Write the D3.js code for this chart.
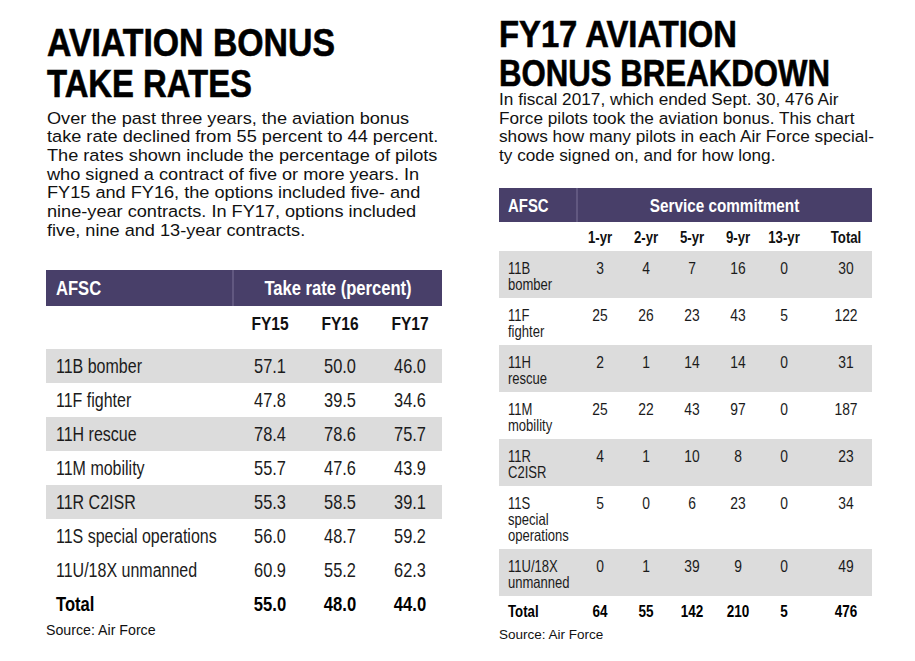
<!DOCTYPE html>
<html lang="en">
<head>
  <meta charset="utf-8">
  <title>Aviation bonus tables</title>
  <script src="https://d3js.org/d3.v7.min.js"></script>
  <style>
  body { margin: 0; background: #fff; }
  text { font-family: "Liberation Sans", Arial, sans-serif; }
  </style>
</head>
<body>
<script>
  // ---- left table: take rates ----
  var takeRateAfsc = ["11B bomber", "11F fighter", "11H rescue", "11M mobility",
                      "11R C2ISR", "11S special operations", "11U/18X unmanned"];
  var fiscalYears = ["FY15", "FY16", "FY17"];
  var fy15 = [57.1, 47.8, 78.4, 55.7, 55.3, 56.0, 60.9];
  var fy16 = [50.0, 39.5, 78.6, 47.6, 58.5, 48.7, 55.2];
  var fy17 = [46.0, 34.6, 75.7, 43.9, 39.1, 59.2, 62.3];
  var takeRateTotals = [55.0, 48.0, 44.0];

  // ---- right table: FY17 breakdown ----
  var breakdownAfsc = [["11B", "bomber"], ["11F", "fighter"], ["11H", "rescue"],
                       ["11M", "mobility"], ["11R", "C2ISR"],
                       ["11S", "special", "operations"], ["11U/18X", "unmanned"]];
  var commitCols = ["1-yr", "2-yr", "5-yr", "9-yr", "13-yr"];
  var yr1  = [3, 25, 2, 25, 4, 5, 0];
  var yr2  = [4, 26, 1, 22, 1, 0, 1];
  var yr5  = [7, 23, 14, 43, 10, 6, 39];
  var yr9  = [16, 43, 14, 97, 8, 23, 9];
  var yr13 = [0, 5, 0, 0, 0, 0, 0];
  var rowTotals = [30, 122, 31, 187, 23, 34, 49];
  var colTotals = [64, 55, 142, 210, 5];
  var grandTotal = 476;

  // ---- copy ----
  var leftTitle = ["AVIATION BONUS", "TAKE RATES"];
  var leftIntro = [
    "Over the past three years, the aviation bonus",
    "take rate declined from 55 percent to 44 percent.",
    "The rates shown include the percentage of pilots",
    "who signed a contract of five or more years. In",
    "FY15 and FY16, the options included five- and",
    "nine-year contracts. In FY17, options included",
    "five, nine and 13-year contracts."
  ];
  var rightTitle = ["FY17 AVIATION", "BONUS BREAKDOWN"];
  var rightIntro = [
    "In fiscal 2017, which ended Sept. 30, 476 Air",
    "Force pilots took the aviation bonus. This chart",
    "shows how many pilots in each Air Force special-",
    "ty code signed on, and for how long."
  ];

  var purple = "#483f69";
  var shade = "#dcdcdc";
  var ink = "#1b1b1b";

  var svg = d3.select("body").append("svg")
    .attr("width", 915)
    .attr("height", 661);

  // draws one piece of text, squeezed horizontally by sx
  function label(g, x, y, s, o) {
    o = o || {};
    var t = g.append("text")
      .attr("transform", "translate(" + x + "," + y + ") scale(" + (o.sx || 1) + ",1)")
      .attr("text-anchor", o.anchor || "start")
      .attr("font-size", o.size || 16)
      .attr("font-weight", o.bold ? "bold" : "normal")
      .attr("fill", o.fill || ink)
      .text(s);
    if (o.stroke) t.attr("stroke", o.fill || "#000").attr("stroke-width", o.stroke);
    return t;
  }

  // headline lines are fitted to the width they take in print
  function titleBlock(x, baselines, widths, size, lines) {
    lines.forEach(function(s, i) {
      svg.append("text")
        .attr("x", x)
        .attr("y", baselines[i])
        .attr("font-size", size)
        .attr("font-weight", "bold")
        .attr("textLength", widths[i])
        .attr("lengthAdjust", "spacingAndGlyphs")
        .attr("fill", "#000")
        .attr("stroke", "#000")
        .attr("stroke-width", 0.6)
        .text(s);
    });
  }
  function introBlock(x, y0, sx, lines) {
    lines.forEach(function(s, i) {
      label(svg, x, y0 + i * 18.7, s, {size: 17.3, sx: sx, fill: "#111"});
    });
  }

  // ================= LEFT =================
  titleBlock(47, [56, 97], [288, 205], 38.5, leftTitle);
  introBlock(47, 123.5, 1.05, leftIntro);

  var L = svg.append("g");
  var lx0 = 46, lx1 = 442;

  L.append("rect").attr("x", lx0).attr("y", 270).attr("width", lx1 - lx0).attr("height", 36).attr("fill", purple);
  L.append("line").attr("x1", 233).attr("x2", 233).attr("y1", 270).attr("y2", 306)
    .attr("stroke", "#7b7398").attr("stroke-width", 1);
  label(L, 56, 295, "AFSC", {size: 20, bold: true, sx: 0.83, fill: "#fff"});
  label(L, 338, 295, "Take rate (percent)", {size: 20, bold: true, sx: 0.83, fill: "#fff", anchor: "middle"});

  var yearX = d3.scalePoint().domain(fiscalYears).range([270, 410]);
  var rowY = d3.scaleBand().domain(takeRateAfsc).range([349, 587]);
  var f1 = d3.format(".1f");

  fiscalYears.forEach(function(d) {
    label(L, yearX(d), 330, d, {size: 19, bold: true, sx: 0.82, anchor: "middle", fill: "#111"});
  });

  var leftRows = takeRateAfsc.map(function(a, i) {
    return {afsc: a, vals: [fy15[i], fy16[i], fy17[i]], i: i};
  });

  L.selectAll("rect.band").data(leftRows.filter(function(d) { return d.i % 2 === 0 && d.i < 6; }))
    .enter().append("rect")
    .attr("class", "band")
    .attr("x", lx0)
    .attr("y", function(d) { return rowY(d.afsc); })
    .attr("width", lx1 - lx0)
    .attr("height", rowY.bandwidth())
    .attr("fill", shade);

  leftRows.forEach(function(r) {
    var by = rowY(r.afsc) + 24;
    label(L, 56, by, r.afsc, {size: 20, sx: 0.8});
    r.vals.forEach(function(v, j) {
      label(L, yearX(fiscalYears[j]), by, f1(v), {size: 20, sx: 0.82, anchor: "middle"});
    });
  });

  var lTotY = rowY.range()[1] + 24;
  label(L, 56, lTotY, "Total", {size: 20, bold: true, sx: 0.83, fill: "#000"});
  takeRateTotals.forEach(function(v, j) {
    label(L, yearX(fiscalYears[j]), lTotY, f1(v), {size: 20, bold: true, sx: 0.83, anchor: "middle", fill: "#000"});
  });
  label(L, 46, 635, "Source: Air Force", {size: 14.2, fill: "#111"});

  // ================= RIGHT =================
  titleBlock(499, [47, 86], [238, 331], 37, rightTitle);
  introBlock(499, 105, 0.995, rightIntro);

  var R = svg.append("g");
  var rx0 = 499, rx1 = 872;

  R.append("rect").attr("x", rx0).attr("y", 188).attr("width", rx1 - rx0).attr("height", 34).attr("fill", purple);
  R.append("line").attr("x1", 577).attr("x2", 577).attr("y1", 188).attr("y2", 222)
    .attr("stroke", "#7b7398").attr("stroke-width", 1);
  label(R, 508, 211.5, "AFSC", {size: 18, bold: true, sx: 0.83, fill: "#fff"});
  label(R, 724.5, 211.5, "Service commitment", {size: 18, bold: true, sx: 0.85, fill: "#fff", anchor: "middle"});

  var colX = d3.scalePoint().domain(commitCols).range([600, 784]);
  var totalX = 846;

  commitCols.forEach(function(c) {
    label(R, colX(c), 243, c, {size: 16.5, bold: true, sx: 0.8, anchor: "middle", fill: "#111"});
  });
  label(R, totalX, 243, "Total", {size: 16.5, bold: true, sx: 0.8, anchor: "middle", fill: "#111"});

  // row heights follow the number of label lines
  var lineGap = 16;
  var heights = breakdownAfsc.map(function(l) { return 15 + lineGap * l.length; });
  var bottoms = Array.from(d3.cumsum(heights));
  var rowTop0 = 251;

  var rightRows = breakdownAfsc.map(function(l, i) {
    return {
      lines: l,
      top: rowTop0 + bottoms[i] - heights[i],
      h: heights[i],
      vals: [yr1[i], yr2[i], yr5[i], yr9[i], yr13[i]],
      total: rowTotals[i],
      i: i
    };
  });

  R.selectAll("rect.band").data(rightRows.filter(function(d) { return d.i % 2 === 0; }))
    .enter().append("rect")
    .attr("class", "band")
    .attr("x", rx0)
    .attr("y", function(d) { return d.top; })
    .attr("width", rx1 - rx0)
    .attr("height", function(d) { return d.h; })
    .attr("fill", shade);

  rightRows.forEach(function(r) {
    var by = r.top + 23;
    r.lines.forEach(function(s, k) {
      label(R, 508, by + k * lineGap, s, {size: 16.3, sx: 0.8});
    });
    r.vals.forEach(function(v, j) {
      label(R, colX(commitCols[j]), by, v, {size: 16.3, sx: 0.85, anchor: "middle"});
    });
    label(R, totalX, by, r.total, {size: 16.3, sx: 0.85, anchor: "middle"});
  });

  var rTotY = rowTop0 + bottoms[bottoms.length - 1] + 21;
  label(R, 508, rTotY, "Total", {size: 16.5, bold: true, sx: 0.8, fill: "#000"});
  colTotals.forEach(function(v, j) {
    label(R, colX(commitCols[j]), rTotY, v, {size: 16.5, bold: true, sx: 0.82, anchor: "middle", fill: "#000"});
  });
  label(R, totalX, rTotY, grandTotal, {size: 16.5, bold: true, sx: 0.82, anchor: "middle", fill: "#000"});
  label(R, 499, 639, "Source: Air Force", {size: 13.5, fill: "#111"});
</script>
</body>
</html>
